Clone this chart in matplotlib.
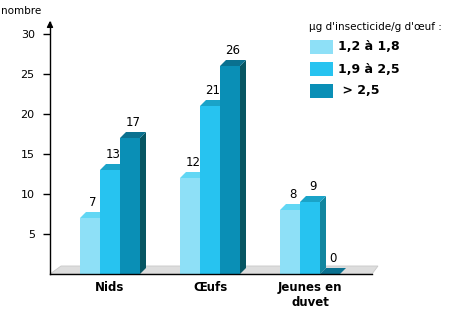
import matplotlib
matplotlib.use("Agg")
import matplotlib.pyplot as plt
from matplotlib.patches import Polygon, Rectangle

categories = ["Nids", "Œufs", "Jeunes en\nduvet"]
series_labels = ["1,2 à 1,8", "1,9 à 2,5", " > 2,5"]
values = [[7, 12, 8], [13, 21, 9], [17, 26, 0]]
yticks = [5, 10, 15, 20, 25, 30]
legend_title = "µg d'insecticide/g d'œuf :"

front_cols = ["#8EE0F7", "#27C3F0", "#0A8FB6"]
top_cols = ["#62D7F4", "#1AA3C8", "#0A7190"]
side_cols = ["#4FB8D4", "#12869F", "#075663"]

W, H = 459, 316
fig = plt.figure(figsize=(W / 100, H / 100), dpi=100)


def px(x0, y0, x1, y1):
    return [x0 / W, 1 - y1 / H, (x1 - x0) / W, (y1 - y0) / H]


ax = fig.add_axes(px(50, 22, 372, 274))
ax.set_xlim(-0.6, 2.62)
ax.set_ylim(0, 31.5)

bw = 0.2
dx, dy = 0.06, 0.75

# floor
floor = Polygon([(-0.6, 0), (2.62, 0), (2.68, 1.0), (-0.49, 1.0)], closed=True,
                facecolor="#DDDDDD", edgecolor="#C8C8C8", lw=0.6, zorder=1, clip_on=False)
ax.add_patch(floor)

for g in range(len(categories)):
    for s in range(len(series_labels)):
        v = values[s][g]
        x0 = g + (s - 1) * bw - bw / 2
        x1 = x0 + bw
        z = 2 + s * 0.1 + g
        side = Polygon([(x1, 0), (x1 + dx, dy), (x1 + dx, v + dy), (x1, v)], closed=True,
                       facecolor=side_cols[s], edgecolor="none", zorder=z)
        top = Polygon([(x0, v), (x1, v), (x1 + dx, v + dy), (x0 + dx, v + dy)], closed=True,
                      facecolor=top_cols[s], edgecolor="none", zorder=z)
        ax.add_patch(side)
        ax.add_patch(top)
        ax.bar(x0, v, width=bw, align="edge", color=front_cols[s], edgecolor="none", zorder=z + 0.01)
        ax.text((x0 + x1) / 2 + dx / 2, v + dy + 0.35, str(v), ha="center", va="bottom",
                fontsize=8.5, color="black", zorder=10)

for sp in ["top", "right"]:
    ax.spines[sp].set_visible(False)
ax.spines["left"].set_linewidth(1)
ax.spines["bottom"].set_linewidth(1)
ax.spines["bottom"].set_zorder(9)
ax.set_yticks(yticks)
ax.set_yticklabels([str(t) for t in yticks])
ax.tick_params(axis="y", direction="out", length=5, width=1, labelsize=8, pad=6)
ax.set_xticks(range(len(categories)))
ax.set_xticklabels(categories, fontsize=8.5, fontweight="bold", linespacing=1.25)
ax.tick_params(axis="x", length=0, pad=5)

# arrow head on y axis
ax.annotate("", xy=(-0.6, 32.0), xytext=(-0.6, 30.8), xycoords="data",
            arrowprops=dict(arrowstyle="-|>", color="black", lw=1, mutation_scale=9),
            annotation_clip=False)

fig.text(1 / W, 1 - 11 / H, "nombre", fontsize=7.5, va="center", ha="left")

# legend
fig.text(309 / W, 1 - 27 / H, legend_title, fontsize=7.5, va="center", ha="left")
ys = [40, 62, 84]
for s, lab in enumerate(series_labels):
    y = ys[s]
    fig.patches.append(Rectangle((310 / W, 1 - (y + 14) / H), 23 / W, 14 / H,
                                 transform=fig.transFigure, facecolor=front_cols[s], edgecolor="none"))
    fig.text(338 / W, 1 - (y + 7) / H, lab, fontsize=9, fontweight="bold", va="center", ha="left")

fig.savefig("out.png", dpi=100)
